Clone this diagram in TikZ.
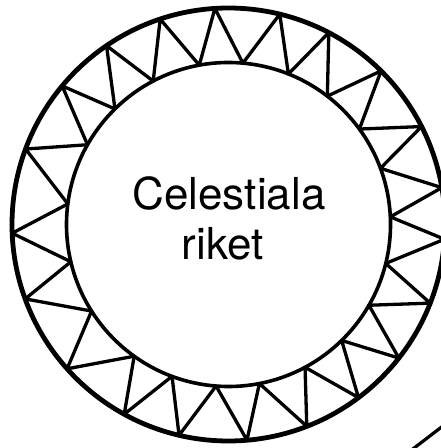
\documentclass[tikz,border=0pt]{standalone}
\usepackage{fontspec}
\setmainfont{TeX Gyre Heros}
\begin{document}
\begin{tikzpicture}[
  ring/.style={draw=black, line width=#1},
  zig/.style={draw=black, line width=3.3pt, line join=round},
  txt/.style={font=\fontsize{44}{50}\selectfont, inner sep=0pt, anchor=base},
  stroke/.style={draw=black, line width=3.2pt}
]
\def\Ro{216.5pt}
\def\Ri{162pt}
\useasboundingbox (0,0) rectangle (441pt,448pt);
\clip (0,0) rectangle (441pt,448pt);
\coordinate (C) at (228.5pt,223.5pt);
\draw[ring=4.8pt] (C) circle[radius=\Ro];
\draw[ring=3.6pt] (C) circle[radius=\Ri];
\begin{scope}[shift={(C)}]
\draw[zig] (356.1:\Ro) -- (2.7:\Ri) -- (9.8:\Ro) -- (20.3:\Ri) -- (26.9:\Ro) -- (36.1:\Ri)
 -- (45.2:\Ro) -- (52.4:\Ri) -- (62.4:\Ro) -- (68.3:\Ri) -- (76.3:\Ro) -- (84.9:\Ri)
 -- (93.6:\Ro) -- (100.4:\Ri) -- (108.4:\Ro) -- (117.7:\Ri) -- (124.3:\Ro) -- (134.5:\Ri)
 -- (140.2:\Ro) -- (150.5:\Ri) -- (159.6:\Ro) -- (172.7:\Ri) -- (182.3:\Ro) -- (193.3:\Ri)
 -- (200.1:\Ro) -- (212.3:\Ri) -- (221.8:\Ro) -- (234.4:\Ri) -- (241.2:\Ro) -- (249.6:\Ri)
 -- (256.8:\Ro) -- (265.6:\Ri) -- (274.9:\Ro) -- (281:\Ri) -- (291.2:\Ro) -- (298.2:\Ri)
 -- (306.9:\Ro) -- (314.3:\Ri) -- (321.9:\Ro) -- (330.1:\Ri) -- (338.7:\Ro) -- (346.1:\Ri)
 -- cycle;
\end{scope}
\node[txt] (t1) at (229pt,238pt) {Celestiala};
\node[txt] (t2) at (222.5pt,188pt) {riket};
\coordinate (s1) at (405pt,-7pt);
\coordinate (s2) at (452pt,29pt);
\draw[stroke] (s1) -- (s2);
\end{tikzpicture}
\end{document}
